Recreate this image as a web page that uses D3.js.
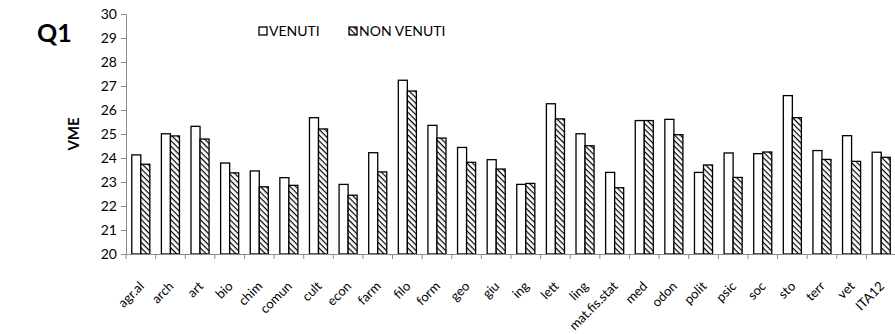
<!DOCTYPE html>
<html><head><meta charset="utf-8">
<script src="https://cdn.jsdelivr.net/npm/d3@7"></script>
<style>body{margin:0;background:#fff}svg{display:block}text{font-family:Lato,"Open Sans",sans-serif;fill:#000}</style>
</head><body><svg id="c" width="895" height="334"></svg>
<script>
const categories = ["agr.al","arch","art","bio","chim","comun","cult","econ","farm","filo","form","geo","giu","ing","lett","ling","mat.fis.stat","med","odon","polit","psic","soc","sto","terr","vet","ITA12"];
const venuti =    [24.13,25.01,25.32,23.79,23.46,23.18,25.68,22.90,24.22,27.24,25.36,24.44,23.93,22.90,26.26,25.01,23.40,25.56,25.61,23.40,24.21,24.18,26.60,24.31,24.93,24.24];
const nonVenuti = [23.74,24.92,24.79,23.38,22.80,22.86,25.21,22.45,23.42,26.79,24.83,23.82,23.54,22.94,25.63,24.51,22.76,25.56,24.97,23.71,23.19,24.25,25.68,23.94,23.86,24.03];
const seriesNames = ["VENUTI","NON VENUTI"];
const yTicks = [20,21,22,23,24,25,26,27,28,29,30];

const svg = d3.select("#c");
const defs = svg.append("defs");
const pat = defs.append("pattern").attr("id","hatch").attr("patternUnits","userSpaceOnUse")
  .attr("width",4).attr("height",4).attr("patternTransform","rotate(45)");
pat.append("rect").attr("width",4).attr("height",4).attr("fill","#fff");
pat.append("line").attr("x1",0).attr("y1",0).attr("x2",4).attr("y2",0).attr("stroke","#000").attr("stroke-width",2.4);

const x0 = d3.scaleBand().domain(categories).range([126,896]).paddingInner(0).paddingOuter(0);
const x1 = d3.scaleBand().domain(seriesNames).range([0,x0.bandwidth()]).paddingInner(0).paddingOuter(0.64);
const y = d3.scaleLinear().domain([20,30]).range([254,14]);

const data = categories.map((c,i)=>({c, vals:[{s:"VENUTI",v:venuti[i]},{s:"NON VENUTI",v:nonVenuti[i]}]}));

// y axis
const yAx = svg.append("g").attr("transform","translate(126,0)")
  .call(d3.axisLeft(y).tickValues(yTicks).tickSize(5).tickPadding(4));
yAx.select(".domain").attr("stroke","#8c8c8c");
yAx.selectAll(".tick line").attr("stroke","#8c8c8c");
yAx.selectAll(".tick text").attr("font-size",14).attr("font-family","Lato, sans-serif").attr("fill","#000");

// bars
const g = svg.append("g");
const grp = g.selectAll("g.cat").data(data).join("g").attr("class","cat")
  .attr("transform",d=>`translate(${x0(d.c)},0)`);
grp.selectAll("rect").data(d=>d.vals).join("rect")
  .attr("x",d=>x1(d.s)).attr("width",x1.bandwidth())
  .attr("y",d=>y(d.v)).attr("height",d=>y(20)-y(d.v))
  .attr("fill",d=>d.s==="VENUTI"?"#fff":"url(#hatch)")
  .attr("stroke","#000").attr("stroke-width",1.3);

// x axis
const xAx = svg.append("g").attr("transform",`translate(0,${y(20)})`)
  .call(d3.axisBottom(x0).tickSize(0).tickFormat(""));
xAx.select(".domain").attr("stroke","#8c8c8c");
xAx.selectAll(".tick").remove();
const bounds = categories.map(c=>x0(c)).concat([x0(categories[categories.length-1])+x0.step()]);
xAx.selectAll("line.sep").data(bounds).join("line").attr("class","sep")
  .attr("x1",d=>d).attr("x2",d=>d).attr("y1",0).attr("y2",5).attr("stroke","#8c8c8c");
xAx.selectAll("text.lab").data(categories).join("text").attr("class","lab")
  .attr("transform",d=>`translate(${x0(d)+x0.bandwidth()/2+4},33) rotate(-45)`)
  .attr("text-anchor","end").attr("font-size",13).text(d=>d);

// titles
svg.append("text").attr("x",37).attr("y",42).attr("font-size",25).attr("font-weight","bold").text("Q1");
svg.append("text").attr("transform",`translate(79,${y(25)}) rotate(-90)`).attr("text-anchor","middle")
  .attr("font-size",15).attr("font-weight","bold").text("VME");

// legend
const lg = svg.append("g");
const legX = d3.scalePoint().domain(seriesNames).range([259,349]);
const li = lg.selectAll("g").data(seriesNames).join("g").attr("transform",d=>`translate(${legX(d)},27)`);
li.append("rect").attr("width",8).attr("height",8).attr("fill",d=>d==="VENUTI"?"#fff":"url(#hatch)")
  .attr("stroke","#000").attr("stroke-width",1.3);
li.append("text").attr("x",10).attr("y",4).attr("dy","0.36em").attr("font-size",14).text(d=>d);
</script></body></html>
